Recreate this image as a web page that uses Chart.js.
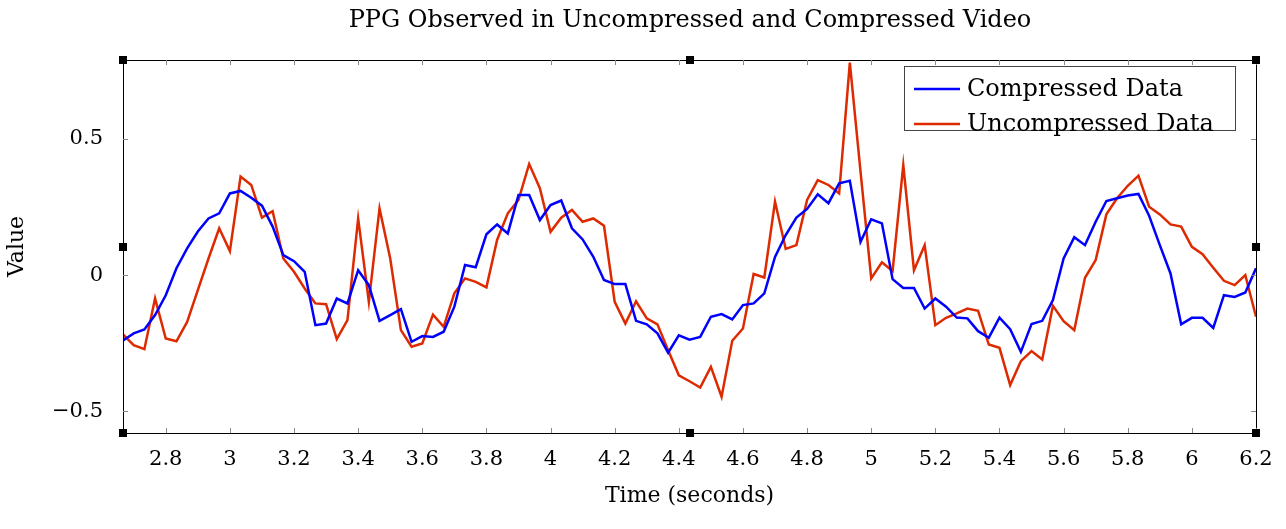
<!DOCTYPE html>
<html>
<head>
<meta charset="utf-8">
<script src="https://cdn.jsdelivr.net/npm/chart.js@4"></script>
<style>
  html, body { margin: 0; padding: 0; background: #fff; }
  #wrap { width: 1286px; height: 529px; }
</style>
</head>
<body>
<div id="wrap"><canvas id="ppgChart"></canvas></div>
<script>
// PPG signal, sampled at 30 fps from t = 2.6667 s
const tStart = 2.6667;
const tStep = 1 / 30;

const compressed = [
  -0.24, -0.214, -0.20, -0.147, -0.074, 0.025, 0.098, 0.16, 0.208, 0.227,
  0.30, 0.309, 0.284, 0.255, 0.178, 0.073, 0.051, 0.012, -0.184, -0.178,
  -0.086, -0.104, 0.018, -0.037, -0.168, -0.147, -0.125, -0.245, -0.224, -0.227,
  -0.208, -0.116, 0.037, 0.029, 0.15, 0.186, 0.153, 0.294, 0.294, 0.202,
  0.257, 0.274, 0.172, 0.131, 0.067, -0.018, -0.033, -0.033, -0.168, -0.181,
  -0.214, -0.285, -0.221, -0.237, -0.227, -0.153, -0.143, -0.163, -0.110, -0.104,
  -0.067, 0.067, 0.147, 0.211, 0.243, 0.297, 0.264, 0.337, 0.346, 0.122,
  0.205, 0.19, -0.015, -0.047, -0.047, -0.123, -0.086, -0.116, -0.156, -0.159,
  -0.206, -0.23, -0.156, -0.199, -0.282, -0.180, -0.168, -0.092, 0.061, 0.139,
  0.11, 0.196, 0.272, 0.282, 0.292, 0.298, 0.218, 0.11, 0.006, -0.181,
  -0.157, -0.157, -0.194, -0.074, -0.08, -0.064, 0.025
];

const uncompressed = [
  -0.218, -0.257, -0.272, -0.086, -0.233, -0.243, -0.172, -0.055, 0.061, 0.172,
  0.088, 0.362, 0.331, 0.211, 0.235, 0.061, 0.012, -0.049, -0.104, -0.107,
  -0.235, -0.165, 0.208, -0.098, 0.245, 0.061, -0.202, -0.263, -0.251, -0.145,
  -0.19, -0.067, -0.012, -0.025, -0.045, 0.129, 0.227, 0.276, 0.408, 0.319,
  0.159, 0.211, 0.239, 0.196, 0.208, 0.181, -0.098, -0.178, -0.096, -0.159,
  -0.181, -0.276, -0.368, -0.39, -0.413, -0.337, -0.447, -0.241, -0.196, 0.004,
  -0.009, 0.27, 0.096, 0.11, 0.276, 0.349, 0.331, 0.30, 0.78, 0.38,
  -0.012, 0.047, 0.015, 0.404, 0.018, 0.11, -0.184, -0.157, -0.141, -0.123,
  -0.131, -0.255, -0.267, -0.404, -0.316, -0.279, -0.31, -0.113, -0.169, -0.202,
  -0.01, 0.055, 0.223, 0.282, 0.328, 0.365, 0.251, 0.223, 0.186, 0.178,
  0.104, 0.077, 0.027, -0.021, -0.037, 0, -0.153
];

const xTicks = [2.8, 3, 3.2, 3.4, 3.6, 3.8, 4, 4.2, 4.4, 4.6, 4.8, 5, 5.2, 5.4, 5.6, 5.8, 6, 6.2];
const yTicks = [-0.5, 0, 0.5];

const seriesNames = ['Compressed Data', 'Uncompressed Data'];
const seriesColors = ['#0000ff', '#dd2a00'];

const toPoints = arr => arr.map((v, i) => ({ x: tStart + i * tStep, y: v }));
const serif = '"DejaVu Serif", "Liberation Serif", serif';

const fmtTick = v => {
  if (v < 0) return '\u2212' + Math.abs(v);
  return String(v);
};

// frame, inward ticks, small squares, title and legend
const framePlugin = {
  id: 'frame',
  afterDraw(chart) {
    const { ctx, chartArea: a, scales: { x, y } } = chart;
    ctx.save();
    ctx.strokeStyle = '#000';
    ctx.lineWidth = 1;
    ctx.strokeRect(a.left + 0.5, a.top + 0.5, a.right - a.left, a.bottom - a.top);

    ctx.strokeStyle = '#888';
    ctx.beginPath();
    xTicks.forEach(t => {
      const px = Math.round(x.getPixelForValue(t)) + 0.5;
      ctx.moveTo(px, a.bottom); ctx.lineTo(px, a.bottom - 5);
      ctx.moveTo(px, a.top); ctx.lineTo(px, a.top + 5);
    });
    yTicks.forEach(t => {
      const py = Math.round(y.getPixelForValue(t)) + 0.5;
      ctx.moveTo(a.left, py); ctx.lineTo(a.left + 5, py);
      ctx.moveTo(a.right, py); ctx.lineTo(a.right - 5, py);
    });
    ctx.stroke();

    ctx.fillStyle = '#000';
    const mx = a.left + 567;
    const my = a.top + 187;
    [[a.left, a.top], [mx, a.top], [a.right, a.top],
     [a.left, my], [a.right, my],
     [a.left, a.bottom], [mx, a.bottom], [a.right, a.bottom]].forEach(([px, py]) => {
      ctx.fillRect(px - 4, py - 4, 8, 8);
    });

    // title
    ctx.fillStyle = '#000';
    ctx.font = '24px ' + serif;
    ctx.textAlign = 'center';
    ctx.textBaseline = 'middle';
    ctx.fillText('PPG Observed in Uncompressed and Compressed Video', 690, 21);

    // legend
    const lx = 904, ly = 66, lw = 331, lh = 64;
    ctx.fillStyle = '#fff';
    ctx.fillRect(lx, ly, lw, lh);
    ctx.strokeStyle = '#444';
    ctx.strokeRect(lx + 0.5, ly + 0.5, lw, lh);
    ctx.font = '24px ' + serif;
    ctx.textAlign = 'left';
    seriesNames.forEach((name, i) => {
      const cy = ly + 23 + i * 35;
      ctx.strokeStyle = seriesColors[i];
      ctx.lineWidth = 2.5;
      ctx.beginPath();
      ctx.moveTo(lx + 10, cy); ctx.lineTo(lx + 56, cy);
      ctx.stroke();
      ctx.fillStyle = '#000';
      ctx.fillText(name, lx + 63, cy + 1);
    });
    ctx.restore();
  }
};

new Chart(document.getElementById('ppgChart'), {
  type: 'line',
  data: {
    datasets: seriesNames.map((name, i) => ({
      label: name,
      data: toPoints(i === 0 ? compressed : uncompressed),
      borderColor: seriesColors[i],
      backgroundColor: seriesColors[i],
      borderWidth: 2.5,
      pointRadius: 0,
      tension: 0
    }))
  },
  options: {
    responsive: true,
    maintainAspectRatio: false,
    animation: false,
    layout: { padding: { top: 60, right: 30, left: 0, bottom: 16 } },
    plugins: { legend: { display: false }, tooltip: { enabled: false } },
    scales: {
      x: {
        type: 'linear',
        min: tStart,
        max: 6.2,
        afterBuildTicks: s => { s.ticks = xTicks.map(v => ({ value: v })); },
        afterFit: s => { s.height = 80; },
        grid: { display: false },
        border: { display: false },
        ticks: { color: '#000', font: { family: serif, size: 21 }, padding: 6, maxRotation: 0, callback: fmtTick },
        title: { display: true, text: 'Time (seconds)', color: '#000', font: { family: serif, size: 22 }, padding: { top: 0 } }
      },
      y: {
        min: -0.58,
        max: 0.79,
        afterBuildTicks: s => { s.ticks = yTicks.map(v => ({ value: v })); },
        afterFit: s => { s.width = 123; },
        grid: { display: false },
        border: { display: false },
        ticks: { color: '#000', font: { family: serif, size: 21 }, padding: 12, callback: fmtTick },
        title: { display: true, text: 'Value', color: '#000', font: { family: serif, size: 22 } }
      }
    }
  },
  plugins: [framePlugin]
});
</script>
</body>
</html>
